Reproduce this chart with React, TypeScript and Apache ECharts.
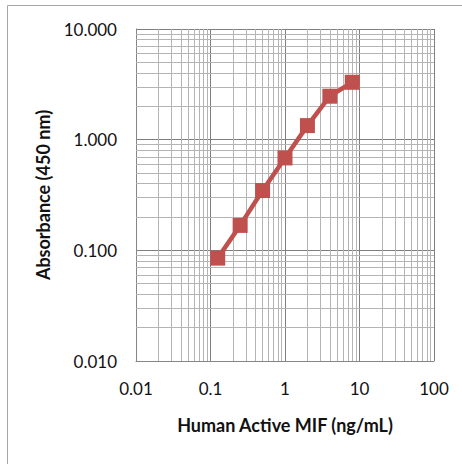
import React, { useEffect, useRef } from "react";
import * as echarts from "echarts";

const concentrations = [0.125, 0.25, 0.5, 1, 2, 4, 8];
const absorbance = [0.085, 0.168, 0.347, 0.684, 1.34, 2.47, 3.3];
const xDecades = [0.01, 0.1, 1, 10];
const yDecades = [0.01, 0.1, 1];
const minorMultipliers = [2, 3, 4, 5, 6, 7, 8, 9];

const FONT = "Lato, 'Open Sans', sans-serif";

export default function App() {
  const ref = useRef<HTMLDivElement>(null);
  useEffect(() => {
    if (!ref.current) return;
    const chart = echarts.init(ref.current, null, { renderer: "svg" });
    const minorX: number[] = [];
    xDecades.forEach((d) => minorMultipliers.forEach((m) => minorX.push(+(d * m).toPrecision(3))));
    const minorY: number[] = [];
    yDecades.forEach((d) => minorMultipliers.forEach((m) => minorY.push(+(d * m).toPrecision(3))));
    const minorLines = [
      ...minorX.map((v) => ({ xAxis: v })),
      ...minorY.map((v) => ({ yAxis: v })),
    ];
    chart.setOption({
      animation: false,
      backgroundColor: "#ffffff",
      graphic: [
        {
          type: "rect",
          shape: { x: 7.5, y: 5.5, width: 480, height: 480 },
          style: { fill: "none", stroke: "#a6a6a6", lineWidth: 1 },
          silent: true,
        },
      ],
      grid: { left: 136, right: 28, top: 29, bottom: 103 },
      xAxis: {
        type: "log",
        logBase: 10,
        min: 0.01,
        max: 100,
        name: "Human Active MIF (ng/mL)",
        nameLocation: "middle",
        nameGap: 55,
        nameTextStyle: { fontFamily: FONT, fontSize: 18, fontWeight: "bold", color: "#111111" },
        axisLine: { show: true, lineStyle: { color: "#868686", width: 1 } },
        axisTick: { show: false },
        axisLabel: {
          fontFamily: FONT,
          fontSize: 17,
          color: "#111111",
          margin: 19,
          formatter: (v: number) => String(+v.toPrecision(3)),
        },
        splitLine: { show: true, lineStyle: { color: "#7f7f7f", width: 1 } },
      },
      yAxis: {
        type: "log",
        logBase: 10,
        min: 0.01,
        max: 10,
        name: "Absorbance (450 nm)",
        nameLocation: "middle",
        nameGap: 84,
        nameRotate: 90,
        nameTextStyle: { fontFamily: FONT, fontSize: 18, fontWeight: "bold", color: "#111111" },
        axisLine: { show: true, lineStyle: { color: "#868686", width: 1 } },
        axisTick: { show: false },
        axisLabel: {
          fontFamily: FONT,
          fontSize: 17,
          color: "#111111",
          margin: 19,
          formatter: (v: number) => v.toFixed(3),
        },
        splitLine: { show: true, lineStyle: { color: "#7f7f7f", width: 1 } },
      },
      series: [
        {
          type: "line",
          data: [],
          z: 1,
          silent: true,
          markLine: {
            silent: true,
            symbol: ["none", "none"],
            label: { show: false },
            lineStyle: { color: "#b4b4b4", width: 1, type: "solid" },
            data: minorLines,
          },
        },
        {
          type: "line",
          z: 5,
          data: concentrations.map((c, i) => [c, absorbance[i]]),
          symbol: "rect",
          symbolSize: 15,
          lineStyle: { color: "#c0504d", width: 4.5 },
          itemStyle: { color: "#c0504d" },
        },
      ],
    });
    return () => chart.dispose();
  }, []);
  return (
    <div
      ref={ref}
      style={{ position: "absolute", left: 0, top: 0, width: 462, height: 464 }}
    />
  );
}
